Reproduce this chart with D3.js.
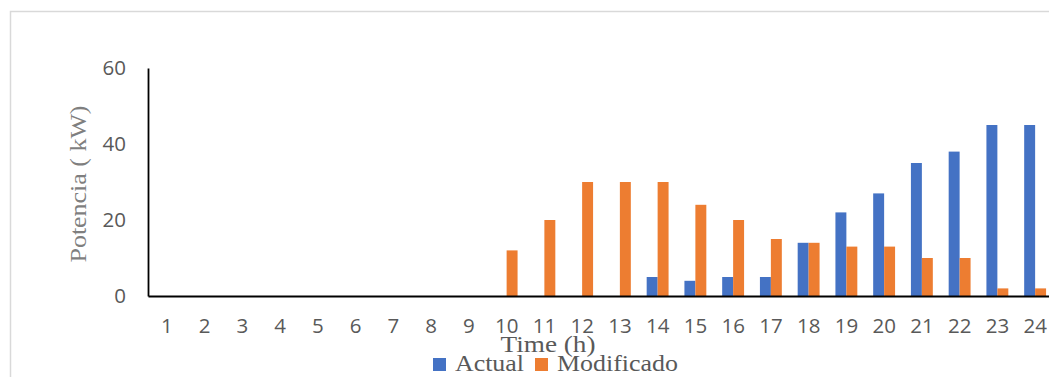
<!DOCTYPE html>
<html>
<head>
<meta charset="utf-8">
<script src="https://cdn.jsdelivr.net/npm/d3@7"></script>
<style>
  html, body { margin: 0; padding: 0; background: #fff; overflow: hidden; }
  svg { display: block; }
</style>
</head>
<body>
<svg id="chart" width="1049" height="377"></svg>
<script>
// Hourly power profile: current vs. modified schedule
const hours = d3.range(1, 25).map(String);
const actual =     [0,0,0,0,0,0,0,0,0,0,0,0,0,5,4,5,5,14,22,27,35,38,45,45];
const modificado = [0,0,0,0,0,0,0,0,0,12,20,30,30,30,24,20,15,14,13,13,10,10,2,2];
const seriesNames = ["Actual", "Modificado"];
const seriesColors = ["#4472C4", "#ED7D31"];
const yTicks = [0, 20, 40, 60];

const svg = d3.select("#chart");

// outer chart frame
svg.append("rect")
  .attr("x", 10.5).attr("y", 11.5)
  .attr("width", 1200).attr("height", 500)
  .attr("fill", "none").attr("stroke", "#d9d9d9").attr("stroke-width", 1.5);

const left = 148, baseY = 296, topY = 68, right = 1054;

const x0 = d3.scaleBand().domain(hours).range([left, right])
  .paddingInner(0.42).paddingOuter(0.21);
const x1 = d3.scaleBand().domain(seriesNames).range([0, x0.bandwidth()]);
const y = d3.scaleLinear().domain([0, 60]).range([baseY, topY]);

const rows = hours.map((h, i) => ({ hour: h, values: [actual[i], modificado[i]] }));

// bars
const groups = svg.append("g").selectAll("g").data(rows).join("g")
  .attr("transform", d => `translate(${x0(d.hour)},0)`);
groups.selectAll("rect")
  .data(d => d.values.map((v, j) => ({ name: seriesNames[j], value: v, color: seriesColors[j] })))
  .join("rect")
  .attr("x", d => x1(d.name))
  .attr("width", x1.bandwidth())
  .attr("y", d => y(d.value))
  .attr("height", d => baseY - y(d.value))
  .attr("fill", d => d.color);

// y axis
const yAxis = svg.append("g").attr("transform", `translate(${left},0)`)
  .call(d3.axisLeft(y).tickValues(yTicks).tickSize(0).tickPadding(22));
yAxis.select(".domain").attr("stroke", "#000").attr("stroke-width", 1.8);
yAxis.selectAll("text")
  .attr("font-family", "'Open Sans', sans-serif").attr("font-size", 20.5)
  .attr("fill", "#595959");

// x axis
const xAxis = svg.append("g").attr("transform", `translate(0,${baseY})`)
  .call(d3.axisBottom(x0).tickSize(0).tickPadding(22));
xAxis.select(".domain").attr("stroke", "#000").attr("stroke-width", 2);
xAxis.selectAll("text")
  .attr("font-family", "'Open Sans', sans-serif").attr("font-size", 20.5)
  .attr("fill", "#595959");

// axis titles
svg.append("text")
  .attr("transform", "translate(86,184) rotate(-90)")
  .attr("text-anchor", "middle")
  .attr("font-family", "'Liberation Serif', serif").attr("font-size", 24)
  .attr("fill", "#7f7f7f")
  .attr("textLength", 157).attr("lengthAdjust", "spacingAndGlyphs")
  .text("Potencia ( kW)");

svg.append("text")
  .attr("x", 548).attr("y", 352)
  .attr("text-anchor", "middle")
  .attr("font-family", "'Liberation Serif', serif").attr("font-size", 24)
  .attr("fill", "#595959")
  .attr("textLength", 95).attr("lengthAdjust", "spacingAndGlyphs")
  .text("Time (h)");

// legend
const legendX = [433, 535];
const legendLen = [69, 121];
const legend = svg.append("g").selectAll("g").data(seriesNames).join("g")
  .attr("transform", (d, i) => `translate(${legendX[i]},0)`);
legend.append("rect")
  .attr("x", 0).attr("y", 358).attr("width", 13).attr("height", 13)
  .attr("fill", (d, i) => seriesColors[i]);
legend.append("text")
  .attr("x", 22).attr("y", 371)
  .attr("font-family", "'Liberation Serif', serif").attr("font-size", 24)
  .attr("fill", "#595959")
  .attr("textLength", (d, i) => legendLen[i]).attr("lengthAdjust", "spacingAndGlyphs")
  .text(d => d);
</script>
</body>
</html>
